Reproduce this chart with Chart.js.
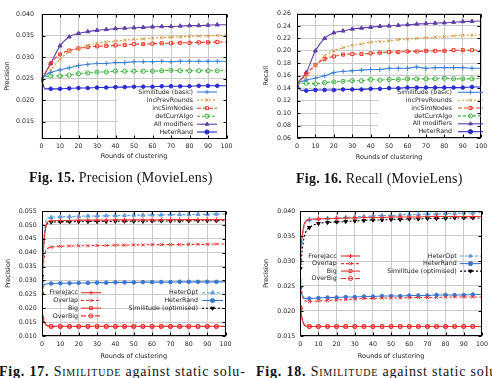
<!DOCTYPE html>
<html>
<head>
<meta charset="utf-8">
<script src="https://cdn.jsdelivr.net/npm/chart.js@4.4.0/dist/chart.umd.min.js"></script>
<style>
  html, body { margin: 0; padding: 0; background: #fff; }
  body { width: 492px; height: 378px; position: relative; overflow: hidden; }
  canvas { position: absolute; }
  .cap { position: absolute; font-family: "Liberation Serif", "Times New Roman", serif; font-size: 14px; line-height: 14px; white-space: nowrap; color: #111; }
  .sc { font-variant: small-caps; }
</style>
</head>
<body>
<canvas id="c1" width="246" height="172" style="left:0;top:0"></canvas>
<canvas id="c2" width="246" height="172" style="left:246px;top:0"></canvas>
<canvas id="c3" width="246" height="172" style="left:0;top:190px"></canvas>
<canvas id="c4" width="246" height="172" style="left:246px;top:190px"></canvas>
<div class="cap" style="left:29px;top:171px;letter-spacing:0.25px"><b>Fig. 15.</b> Precision (MovieLens)</div>
<div class="cap" style="left:296px;top:171.5px;letter-spacing:0.25px"><b>Fig. 16.</b> Recall (MovieLens)</div>
<div class="cap" style="left:-1px;top:365px;letter-spacing:0.8px"><b>Fig. 17.</b> <span class="sc">Similitude</span> against static solu-</div>
<div class="cap" style="left:256px;top:365px;letter-spacing:0.8px"><b>Fig. 18.</b> <span class="sc">Similitude</span> against static solu-</div>
<script>
// rounds at which values were read (markers every 5 rounds)
const rounds12 = [0, 2, 5, 10, 15, 20, 25, 30, 35, 40, 45, 50, 55, 60, 65, 70, 75, 80, 85, 90, 95, 100];
const rounds34 = [0, 1, 2, 3, 5, 10, 15, 20, 25, 30, 35, 40, 45, 50, 55, 60, 65, 70, 75, 80, 85, 90, 95, 100];
const xTicks = [0, 10, 20, 30, 40, 50, 60, 70, 80, 90, 100];

// Fig. 15 precision (MovieLens)
const precBasic     = [0.0247, 0.0257, 0.0264, 0.0270, 0.0275, 0.0280, 0.0283, 0.0285, 0.0285, 0.0287, 0.0287, 0.0289, 0.0289, 0.0289, 0.0290, 0.0289, 0.0290, 0.0290, 0.0290, 0.0290, 0.0290, 0.0290];
const precIncPrev   = [0.0247, 0.0256, 0.0270, 0.0295, 0.0312, 0.0321, 0.0327, 0.0332, 0.0335, 0.0337, 0.0339, 0.0341, 0.0342, 0.0344, 0.0345, 0.0346, 0.0347, 0.0348, 0.0349, 0.0349, 0.0350, 0.0351];
const precIncSim    = [0.0247, 0.0262, 0.0285, 0.0306, 0.0315, 0.0320, 0.0323, 0.0325, 0.0326, 0.0327, 0.0328, 0.0330, 0.0330, 0.0331, 0.0332, 0.0332, 0.0333, 0.0333, 0.0334, 0.0334, 0.0335, 0.0335];
const precDetCurr   = [0.0247, 0.0253, 0.0256, 0.0256, 0.0258, 0.0261, 0.0263, 0.0265, 0.0265, 0.0267, 0.0267, 0.0267, 0.0267, 0.0267, 0.0268, 0.0269, 0.0268, 0.0268, 0.0268, 0.0268, 0.0268, 0.0268];
const precAllMod    = [0.0247, 0.0262, 0.0285, 0.0326, 0.0347, 0.0355, 0.0359, 0.0362, 0.0364, 0.0366, 0.0367, 0.0368, 0.0369, 0.0370, 0.0371, 0.0371, 0.0372, 0.0373, 0.0373, 0.0374, 0.0375, 0.0375];
const precHeterRand = [0.0247, 0.0226, 0.0226, 0.0226, 0.0227, 0.0228, 0.0228, 0.0229, 0.0229, 0.0230, 0.0230, 0.0231, 0.0231, 0.0231, 0.0232, 0.0232, 0.0232, 0.0232, 0.0233, 0.0233, 0.0233, 0.0233];
const yTicks1 = [0.015, 0.020, 0.025, 0.030, 0.035, 0.040];

// Fig. 16 recall (MovieLens)
const recBasic     = [0.148, 0.150, 0.153, 0.156, 0.160, 0.165, 0.167, 0.168, 0.169, 0.170, 0.170, 0.172, 0.172, 0.172, 0.174, 0.172, 0.173, 0.173, 0.173, 0.173, 0.172, 0.172];
const recIncPrev   = [0.148, 0.151, 0.158, 0.177, 0.192, 0.200, 0.205, 0.209, 0.211, 0.214, 0.215, 0.216, 0.218, 0.219, 0.220, 0.221, 0.222, 0.223, 0.224, 0.225, 0.225, 0.226];
const recIncSim    = [0.148, 0.153, 0.163, 0.177, 0.187, 0.191, 0.194, 0.195, 0.195, 0.196, 0.197, 0.198, 0.198, 0.199, 0.199, 0.200, 0.200, 0.200, 0.201, 0.201, 0.201, 0.201];
const recDetCurr   = [0.148, 0.148, 0.148, 0.147, 0.149, 0.150, 0.151, 0.152, 0.152, 0.154, 0.153, 0.154, 0.154, 0.155, 0.155, 0.155, 0.155, 0.156, 0.155, 0.155, 0.155, 0.156];
const recAllMod    = [0.148, 0.154, 0.165, 0.200, 0.220, 0.229, 0.232, 0.235, 0.2365, 0.238, 0.2395, 0.240, 0.241, 0.242, 0.243, 0.244, 0.2445, 0.245, 0.246, 0.247, 0.2475, 0.248];
const recHeterRand = [0.148, 0.137, 0.136, 0.137, 0.137, 0.137, 0.138, 0.138, 0.138, 0.139, 0.139, 0.140, 0.140, 0.141, 0.141, 0.141, 0.141, 0.141, 0.141, 0.141, 0.142, 0.142];
const yTicks2 = [0.06, 0.08, 0.10, 0.12, 0.14, 0.16, 0.18, 0.20, 0.22, 0.24, 0.26];

// Fig. 17 Similitude against static solutions
const p3Frere     = [0.0295, 0.0430, 0.0490, 0.0510, 0.0515, 0.0516, 0.0516, 0.0517, 0.0517, 0.0517, 0.0517, 0.0518, 0.0518, 0.0518, 0.0518, 0.0518, 0.0518, 0.0519, 0.0519, 0.0519, 0.0519, 0.0519, 0.0519, 0.0519];
const p3Overlap   = [0.0290, 0.0370, 0.0405, 0.0415, 0.0420, 0.0423, 0.0424, 0.0425, 0.0425, 0.0426, 0.0426, 0.0427, 0.0427, 0.0428, 0.0428, 0.0429, 0.0429, 0.0429, 0.0429, 0.0430, 0.0430, 0.0430, 0.0431, 0.0431];
const p3Big       = [0.0168, 0.0155, 0.0143, 0.0138, 0.0135, 0.0135, 0.0135, 0.0135, 0.0135, 0.0135, 0.0135, 0.0135, 0.0135, 0.0135, 0.0135, 0.0135, 0.0135, 0.0135, 0.0135, 0.0135, 0.0135, 0.0135, 0.0135, 0.0135];
const p3OverBig   = [0.0162, 0.0150, 0.0140, 0.0136, 0.0134, 0.0134, 0.0134, 0.0134, 0.0134, 0.0134, 0.0134, 0.0134, 0.0134, 0.0134, 0.0134, 0.0134, 0.0134, 0.0134, 0.0134, 0.0134, 0.0134, 0.0134, 0.0134, 0.0134];
const p3HeterOpt  = [0.0310, 0.0450, 0.0510, 0.0523, 0.0527, 0.0529, 0.0530, 0.0531, 0.0532, 0.0532, 0.0533, 0.0533, 0.0534, 0.0535, 0.0535, 0.0536, 0.0536, 0.0537, 0.0537, 0.0537, 0.0538, 0.0538, 0.0539, 0.0539];
const p3HeterRand = [0.0255, 0.0283, 0.0287, 0.0288, 0.0289, 0.0290, 0.0290, 0.0291, 0.0291, 0.0292, 0.0292, 0.0293, 0.0293, 0.0293, 0.0294, 0.0294, 0.0294, 0.0294, 0.0295, 0.0295, 0.0295, 0.0295, 0.0295, 0.0295];
const p3SimOpt    = [0.0315, 0.0440, 0.0490, 0.0505, 0.0510, 0.0511, 0.0511, 0.0512, 0.0512, 0.0512, 0.0512, 0.0513, 0.0513, 0.0513, 0.0513, 0.0514, 0.0514, 0.0514, 0.0514, 0.0515, 0.0515, 0.0515, 0.0515, 0.0515];
const yTicks3 = [0.010, 0.015, 0.020, 0.025, 0.030, 0.035, 0.040, 0.045, 0.050, 0.055];

// Fig. 18 Similitude against static solutions
const p4Frere     = [0.0312, 0.0350, 0.0372, 0.0380, 0.0383, 0.0384, 0.0385, 0.0385, 0.0386, 0.0386, 0.0387, 0.0387, 0.0387, 0.0388, 0.0388, 0.0388, 0.0388, 0.0389, 0.0389, 0.0389, 0.0389, 0.0389, 0.0389, 0.0389];
const p4Overlap   = [0.0260, 0.0235, 0.0223, 0.0220, 0.0219, 0.0220, 0.0221, 0.0222, 0.0223, 0.0224, 0.0225, 0.0225, 0.0226, 0.0226, 0.0226, 0.0227, 0.0227, 0.0227, 0.0227, 0.0228, 0.0228, 0.0228, 0.0228, 0.0228];
const p4Big       = [0.0207, 0.0185, 0.0174, 0.0170, 0.0169, 0.0169, 0.0169, 0.0169, 0.0169, 0.0169, 0.0169, 0.0169, 0.0169, 0.0169, 0.0169, 0.0169, 0.0169, 0.0169, 0.0169, 0.0169, 0.0169, 0.0169, 0.0169, 0.0169];
const p4OverBig   = [0.0205, 0.0184, 0.0173, 0.0170, 0.0169, 0.0169, 0.0169, 0.0169, 0.0169, 0.0169, 0.0169, 0.0169, 0.0169, 0.0169, 0.0169, 0.0169, 0.0169, 0.0169, 0.0169, 0.0169, 0.0169, 0.0169, 0.0169, 0.0169];
const p4HeterOpt  = [0.0295, 0.0340, 0.0368, 0.0378, 0.0382, 0.0384, 0.0385, 0.0386, 0.0387, 0.0388, 0.0389, 0.0390, 0.0391, 0.0391, 0.0392, 0.0393, 0.0393, 0.0394, 0.0394, 0.0395, 0.0395, 0.0396, 0.0396, 0.0397];
const p4HeterRand = [0.0247, 0.0232, 0.0226, 0.0225, 0.0225, 0.0226, 0.0227, 0.0227, 0.0228, 0.0228, 0.0229, 0.0229, 0.0230, 0.0230, 0.0230, 0.0231, 0.0231, 0.0231, 0.0232, 0.0232, 0.0232, 0.0232, 0.0233, 0.0233];
const p4SimOpt    = [0.0285, 0.0320, 0.0345, 0.0358, 0.0367, 0.0375, 0.0377, 0.0378, 0.0379, 0.0380, 0.0381, 0.0382, 0.0382, 0.0383, 0.0383, 0.0384, 0.0384, 0.0385, 0.0385, 0.0385, 0.0386, 0.0386, 0.0386, 0.0386];
const yTicks4 = [0.015, 0.020, 0.025, 0.030, 0.035, 0.040];

const FONT = '"DejaVu Sans", "Liberation Sans", sans-serif';
const RED = '#ec3434';

function series(label, xs, ys, st) {
  return {
    label: label,
    data: xs.map((x, i) => ({ x: x, y: ys[i] })),
    borderColor: st.color,
    borderWidth: 1.1,
    borderDash: st.dash || [],
    pointStyle: st.point,
    pointRotation: st.rot || 0,
    pointBackgroundColor: st.fill ? st.color : 'rgba(0,0,0,0)',
    pointBorderColor: st.color,
    pointBorderWidth: 1,
    pointRadius: c => { const x = xs[c.dataIndex]; return (x % 5 === 0 && x < 100) ? (st.r || 2.1) : 0; },
    cubicInterpolationMode: 'monotone',
    fill: false
  };
}

function markPoint(ctx, ds, x, y) {
  if (Chart.helpers && Chart.helpers.drawPoint) {
    Chart.helpers.drawPoint(ctx, { pointStyle: ds.pointStyle, rotation: ds.pointRotation, radius: 2.1, borderWidth: 1 }, x, y);
  } else {
    ctx.beginPath(); ctx.arc(x, y, 2, 0, Math.PI * 2); ctx.fill(); ctx.stroke();
  }
}

// gnuplot style frame, inward ticks on all sides, key drawn inside the plot
const framePlugin = {
  id: 'frame',
  beforeDatasetsDraw(chart, args, opts) {
    if (!opts.box) return;
    const b = opts.box, ctx = chart.ctx;
    ctx.save();
    ctx.fillStyle = '#fff';
    ctx.fillRect(b[0], b[1], b[2] - b[0], b[3] - b[1]);
    ctx.restore();
  },
  afterDatasetsDraw(chart, args, opts) {
    const ctx = chart.ctx, a = chart.chartArea, sx = chart.scales.x, sy = chart.scales.y;
    ctx.save();
    ctx.strokeStyle = '#000';
    ctx.lineWidth = 1;
    const L = Math.round(a.left) + 0.5, R = Math.round(a.right) - 0.5;
    const T = Math.round(a.top) + 0.5, B = Math.round(a.bottom) - 0.5;
    ctx.strokeRect(L, T, R - L, B - T);
    ctx.beginPath();
    sx.ticks.forEach(t => {
      const p = Math.round(sx.getPixelForValue(t.value)) + 0.5;
      ctx.moveTo(p, B); ctx.lineTo(p, B - 3);
      ctx.moveTo(p, T); ctx.lineTo(p, T + 3);
    });
    sy.ticks.forEach(t => {
      const p = Math.round(sy.getPixelForValue(t.value)) + 0.5;
      ctx.moveTo(L, p); ctx.lineTo(L + 3, p);
      ctx.moveTo(R, p); ctx.lineTo(R - 3, p);
    });
    ctx.stroke();

    ctx.font = '6.3px ' + FONT;
    ctx.textAlign = 'right';
    ctx.textBaseline = 'middle';
    (opts.legend || []).forEach(col => {
      col.rows.forEach((y, k) => {
        const ds = chart.data.datasets[col.items[k]];
        ctx.fillStyle = '#222';
        ctx.fillText(ds.label, col.text, y);
        ctx.save();
        ctx.strokeStyle = ds.borderColor;
        ctx.lineWidth = ds.borderWidth;
        ctx.setLineDash(ds.borderDash);
        ctx.beginPath(); ctx.moveTo(col.s0, y); ctx.lineTo(col.s1, y); ctx.stroke();
        ctx.setLineDash([]);
        ctx.lineWidth = 1;
        ctx.fillStyle = ds.pointBackgroundColor;
        markPoint(ctx, ds, (col.s0 + col.s1) / 2, y);
        ctx.restore();
      });
    });
    ctx.restore();
  }
};

function makeChart(id, datasets, p) {
  const H = 172, W = 246;
  return new Chart(document.getElementById(id), {
    type: 'line',
    data: { datasets: datasets },
    plugins: [framePlugin],
    options: {
      responsive: false,
      animation: false,
      devicePixelRatio: 1,
      layout: { padding: { top: p.area[1], right: W - p.area[2], left: 0, bottom: 0 } },
      plugins: {
        legend: { display: false },
        tooltip: { enabled: false },
        frame: { box: p.box, legend: p.legend }
      },
      scales: {
        x: {
          type: 'linear', min: 0, max: 100,
          afterBuildTicks: s => { s.ticks = xTicks.map(v => ({ value: v })); },
          afterFit: s => { s.height = H - p.area[3]; },
          grid: { color: '#cccccc', lineWidth: 1, drawTicks: false },
          border: { display: false },
          ticks: { autoSkip: false, maxRotation: 0, padding: p.xPad, color: '#222', font: { family: FONT, size: 6.3 }, callback: v => String(v) },
          title: { display: true, text: 'Rounds of clustering', color: '#222', font: { family: FONT, size: 6.5 }, padding: { top: 0, bottom: p.xTitle } }
        },
        y: {
          type: 'linear', min: p.yMin, max: p.yMax,
          afterBuildTicks: s => { s.ticks = p.yTicks.map(v => ({ value: v })); },
          afterFit: s => { s.width = p.area[0]; },
          grid: { color: '#cccccc', lineWidth: 1, drawTicks: false },
          border: { display: false },
          ticks: { autoSkip: false, padding: p.yPad, color: '#222', font: { family: FONT, size: 6.3 }, callback: v => v.toFixed(p.dec) },
          title: { display: true, text: p.yTitle, color: '#222', font: { family: FONT, size: 6.5 }, padding: { top: p.yTitlePad, bottom: 0 } }
        }
      }
    }
  });
}

const st12 = [
  { color: '#3d82d6', point: 'cross', r: 2.4 },
  { color: '#d99a45', point: 'crossRot', dash: [2, 2], r: 2.2 },
  { color: '#ee3b2b', point: 'rect', dash: [4, 2], r: 2.2 },
  { color: '#3bb33b', point: 'circle', dash: [3, 2] },
  { color: '#5e3fa8', point: 'triangle', fill: true, r: 2.3 },
  { color: '#2b2bd0', point: 'circle', fill: true, r: 1.8 }
];
const names12 = ['Similitude (basic)', 'incPrevRounds', 'incSimNodes', 'detCurrAlgo', 'All modifiers', 'HeterRand'];

const st34 = [
  { color: RED, point: 'cross', r: 2.4 },
  { color: RED, point: 'crossRot', dash: [3, 2], r: 2.2 },
  { color: RED, point: 'rect', r: 2.2 },
  { color: RED, point: 'circle', dash: [5, 2] },
  { color: '#5b9ae0', point: 'triangle', fill: true, dash: [3, 2], r: 2.2 },
  { color: '#3a78d0', point: 'circle', fill: true, r: 1.8 },
  { color: '#000000', point: 'triangle', rot: 180, fill: true, dash: [2, 2], r: 2.1 }
];
const names34 = ['FrereJacc', 'Overlap', 'Big', 'OverBig', 'HeterOpt', 'HeterRand', 'Similitude (optimised)'];

const data1 = [precBasic, precIncPrev, precIncSim, precDetCurr, precAllMod, precHeterRand];
const data2 = [recBasic, recIncPrev, recIncSim, recDetCurr, recAllMod, recHeterRand];
const data3 = [p3Frere, p3Overlap, p3Big, p3OverBig, p3HeterOpt, p3HeterRand, p3SimOpt];
const data4 = [p4Frere, p4Overlap, p4Big, p4OverBig, p4HeterOpt, p4HeterRand, p4SimOpt];

makeChart('c1', data1.map((d, i) => series(names12[i], rounds12, d, st12[i])), {
  area: [41.5, 14, 226.5, 138.5], yMin: 0.01105, yMax: 0.040, yTicks: yTicks1, dec: 3,
  yTitle: 'Precision', yTitlePad: 3.4, yPad: 7.5, xPad: 4, xTitle: 12,
  box: [118, 87, 226, 138],
  legend: [{ text: 193, s0: 197, s1: 217, rows: [92, 100.1, 108.2, 116.2, 124.2, 132], items: [0, 1, 2, 3, 4, 5] }]
});

makeChart('c2', data2.map((d, i) => series(names12[i], rounds12, d, st12[i])), {
  area: [51, 13.5, 238, 138], yMin: 0.06, yMax: 0.26, yTicks: yTicks2, dec: 2,
  yTitle: 'Recall', yTitlePad: 16.8, yPad: 6, xPad: 4.8, xTitle: 10.8,
  box: [132, 86, 238, 138],
  legend: [{ text: 206, s0: 212, s1: 237, rows: [92.3, 100.2, 108, 115.9, 123.8, 131.7], items: [0, 1, 2, 3, 4, 5] }]
});

makeChart('c3', data3.map((d, i) => series(names34[i], rounds34, d, st34[i])), {
  area: [42, 21, 225.5, 146], yMin: 0.010, yMax: 0.055, yTicks: yTicks3, dec: 3,
  yTitle: 'Precision', yTitlePad: 4.1, yPad: 5.3, xPad: 4.1, xTitle: 2.1,
  legend: [
    { text: 78, s0: 81, s1: 101, rows: [102.7, 110.5, 118.2, 125.9], items: [0, 1, 2, 3] },
    { text: 198, s0: 202, s1: 223, rows: [102.7, 110.5, 118.2], items: [4, 5, 6] }
  ]
});

makeChart('c4', data4.map((d, i) => series(names34[i], rounds34, d, st34[i])), {
  area: [54.3, 21, 238, 146], yMin: 0.015, yMax: 0.040, yTicks: yTicks4, dec: 3,
  yTitle: 'Precision', yTitlePad: 16.8, yPad: 5, xPad: 4.1, xTitle: 2.1,
  legend: [
    { text: 90.7, s0: 95, s1: 114, rows: [66, 73.6, 81.1, 88.5], items: [0, 1, 2, 3] },
    { text: 210.7, s0: 214, s1: 235, rows: [66, 73.6, 81.1], items: [4, 5, 6] }
  ]
});
</script>
</body>
</html>
